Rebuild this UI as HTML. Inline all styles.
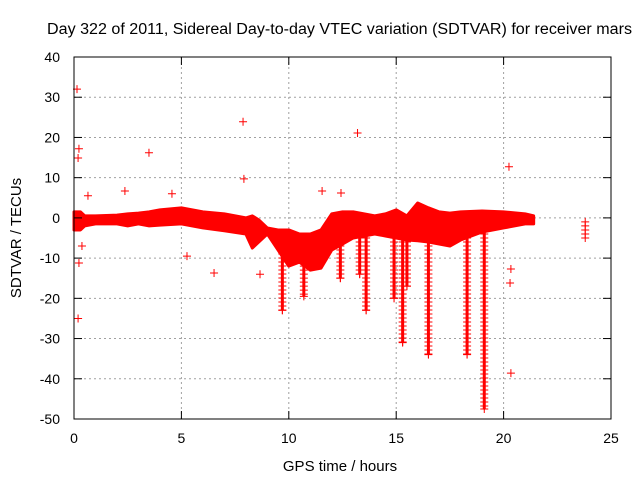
<!DOCTYPE html>
<html><head><meta charset="utf-8"><style>
body{margin:0;background:#fff}
svg{font-family:"Liberation Sans",sans-serif}
</style></head><body>
<svg id="chart" width="640" height="480" viewBox="0 0 640 480" xmlns="http://www.w3.org/2000/svg">
<rect width="640" height="480" fill="#fff"/>
<text x="47" y="34" font-size="15.5" textLength="585" lengthAdjust="spacingAndGlyphs">Day 322 of 2011, Sidereal Day-to-day VTEC variation (SDTVAR) for receiver mars</text>
<text transform="translate(21,238) rotate(-90)" font-size="15" text-anchor="middle">SDTVAR / TECUs</text>
<text x="340" y="471" font-size="15" text-anchor="middle">GPS time / hours</text>
<g id="grid"></g>
<g id="marks"></g>
<g id="axes"></g>
<rect x="74" y="57" width="537" height="362" fill="none" stroke="#000" stroke-width="1"/>
</svg>
<script>
const xTicks=[0,5,10,15,20,25];
const yTicks=[40,30,20,10,0,-10,-20,-30,-40,-50];
const bandT=[0,0.3,0.5,1,2,2.5,3,3.5,4,5,6,7,8,8.3,8.6,9,9.5,10,10.5,11,11.5,12,12.5,13,13.5,14,14.5,15,15.5,16,16.5,17,17.5,18,19,20,21,21.4];
const bandHi=[1.5,1.5,0.5,0.5,0.7,1,1.2,1.5,2,2.5,1.5,1,0,0.5,-0.5,-2.5,-3,-3,-4,-4,-3,1,1.5,1.5,1,0.5,1,2,0.5,3.7,2.5,1.5,1.2,1.5,1.7,1.5,1,0.5];
const bandLo=[-3,-3,-2,-1.5,-1.5,-2,-1.5,-2,-1.8,-1.5,-2.5,-3.2,-4,-7.5,-6,-4,-8,-12,-11,-13,-12.5,-8,-6.5,-5,-4.5,-4,-4.5,-5,-5.5,-5.7,-6,-6.5,-7,-5.5,-3.5,-2.5,-1.5,-1.5];
const spikeT=[9.7,10.7,12.4,13.3,13.6,14.9,15.3,15.5,16.5,18.3,19.1];
const spikeMin=[-23,-19.5,-15,-14,-23,-20,-31,-17,-34,-34,-47.5];
const spikeTop=[-5,-12,-4,-3,-3,-3,-4,-4,-4,-5,-3];
const outT=[0.14,0.23,0.19,0.19,0.23,2.37,3.49,4.56,7.87,7.91,13.2,20.25,20.34,20.3,20.34,11.55,12.43,6.52,8.66,5.26,0.65,0.37,23.8,23.8,23.8,23.8,23.8];
const outV=[32,17.2,14.9,-25,-11.2,6.7,16.2,6,23.9,9.7,21.1,12.7,-12.7,-16.2,-38.6,6.7,6.2,-13.7,-14,-9.5,5.5,-7,-1,-2,-3,-4,-5];
const X=t=>74+t*537/25, Y=v=>57+(40-v)*362/90;
const NS="http://www.w3.org/2000/svg";
function mk(tag,parent,attrs){const e=document.createElementNS(NS,tag);for(const k in attrs)e.setAttribute(k,attrs[k]);document.getElementById(parent).appendChild(e);return e;}
xTicks.forEach(t=>{
 if(t>0&&t<25){const g=mk('line','grid',{x1:X(t),x2:X(t),y1:57,y2:419,stroke:'#a0a0a0','stroke-dasharray':'2,3'});
 
 }
 const a=mk('line','axes',{x1:X(t),x2:X(t),y1:419,y2:411,stroke:'#000'});
 
 
 const b=mk('line','axes',{x1:X(t),x2:X(t),y1:57,y2:65,stroke:'#000'});
 
 
 const l=mk('text','axes',{x:X(t),y:443,'font-size':14,'text-anchor':'middle'});l.textContent=t;
 
 
});
yTicks.forEach(v=>{
 if(v<40&&v>-50){const g=mk('line','grid',{x1:74,x2:611,y1:Y(v),y2:Y(v),stroke:'#a0a0a0','stroke-dasharray':'2,3'});
 
 }
 const a=mk('line','axes',{x1:74,x2:82,y1:Y(v),y2:Y(v),stroke:'#000'});
 
 
 const b=mk('line','axes',{x1:603,x2:611,y1:Y(v),y2:Y(v),stroke:'#000'});
 
 
 const l=mk('text','axes',{x:60,y:Y(v)+5,'font-size':14,'text-anchor':'end'});l.textContent=v;
 
 
});
let pts=bandT.map((t,i)=>X(t)+','+Y(bandHi[i]));
for(let i=bandT.length-1;i>=0;i--)pts.push(X(bandT[i])+','+Y(bandLo[i]));
const band=mk('polygon','marks',{points:pts.join(' '),fill:'#f00',stroke:'#f00','stroke-width':3,'stroke-linejoin':'round'});


function plus(x,y,name){const p=mk('path','marks',{d:`M${x-4},${y}h8M${x},${y-4}v8`,stroke:'#f00','stroke-width':1});
 
 }
spikeT.forEach((t,i)=>{
 const s=mk('line','marks',{x1:X(t),x2:X(t),y1:Y(spikeTop[i]),y2:Y(spikeMin[i]),stroke:'#f00','stroke-width':3});
 
 
 for(let y=Y(spikeTop[i]);y<=Y(spikeMin[i]);y+=4)plus(X(t),y,'spike-point');
 plus(X(t),Y(spikeMin[i]),'spike-min-point');
});
outT.forEach((t,i)=>plus(X(t),Y(outV[i]),'outlier-point'));
</script>
</body></html>
